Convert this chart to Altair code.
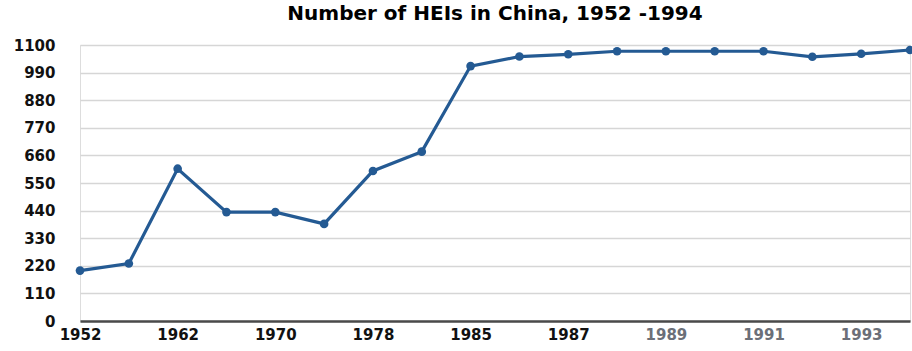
import altair as alt
import pandas as pd

# Number of higher education institutions in China by year
years = ["1952", "1957", "1962", "1965", "1970", "1975", "1978", "1980", "1985",
         "1986", "1987", "1988", "1989", "1990", "1991", "1992", "1993", "1994"]
heis = [201, 229, 607, 434, 434, 387, 598, 675, 1016,
        1054, 1063, 1075, 1075, 1075, 1075, 1053, 1065, 1080]
shown_labels = ["1952", "1962", "1970", "1978", "1985", "1987", "1989", "1991", "1993"]
grey_labels = ["1989", "1991", "1993"]
y_ticks = [0, 110, 220, 330, 440, 550, 660, 770, 880, 990, 1100]

df = pd.DataFrame({"year": years, "heis": heis})

FONT = "DejaVu Sans"
LINE = "#245a93"

x_enc = alt.X(
    "year:O",
    sort=years,
    scale=alt.Scale(type="point", padding=0),
    axis=alt.Axis(
        values=shown_labels,
        title=None,
        labelAngle=0,
        labelFont=FONT,
        labelFontWeight="bold",
        labelFontSize=15,
        labelColor=alt.expr(f"indexof({grey_labels}, datum.value) >= 0 ? '#6b6f78' : '#111111'"),
        labelPadding=6,
        ticks=False,
        domain=True,
        domainColor="#4a4a4a",
        domainWidth=2.5,
        grid=False,
    ),
)
y_enc = alt.Y(
    "heis:Q",
    scale=alt.Scale(domain=[0, 1100], nice=False, zero=True),
    axis=alt.Axis(
        values=y_ticks,
        format="d",
        title=None,
        labelFont=FONT,
        labelFontWeight="bold",
        labelFontSize=15,
        labelColor="#111111",
        labelPadding=25,
        ticks=False,
        domain=False,
        grid=True,
        gridColor="#d6d6d6",
        gridWidth=1.5,
    ),
)

base = alt.Chart(df).encode(x=x_enc, y=y_enc)
line = base.mark_line(color=LINE, strokeWidth=3.2)
points = base.mark_point(filled=True, color=LINE, size=75, opacity=1)

chart = (
    (line + points)
    .properties(
        width=830,
        height=276,
        title=alt.TitleParams(
            "Number of HEIs in China, 1952 -1994",
            font=FONT,
            fontSize=20,
            fontWeight="bold",
            color="#000000",
            anchor="middle",
            offset=14,
        ),
        padding={"left": 80, "top": 45, "right": 2, "bottom": 30},
        autosize=alt.AutoSizeParams(type="none"),
    )
    .configure_view(stroke=None)
    .configure(background="#ffffff")
)

chart.save("out.html", embed_options={"renderer": "svg", "actions": False})
